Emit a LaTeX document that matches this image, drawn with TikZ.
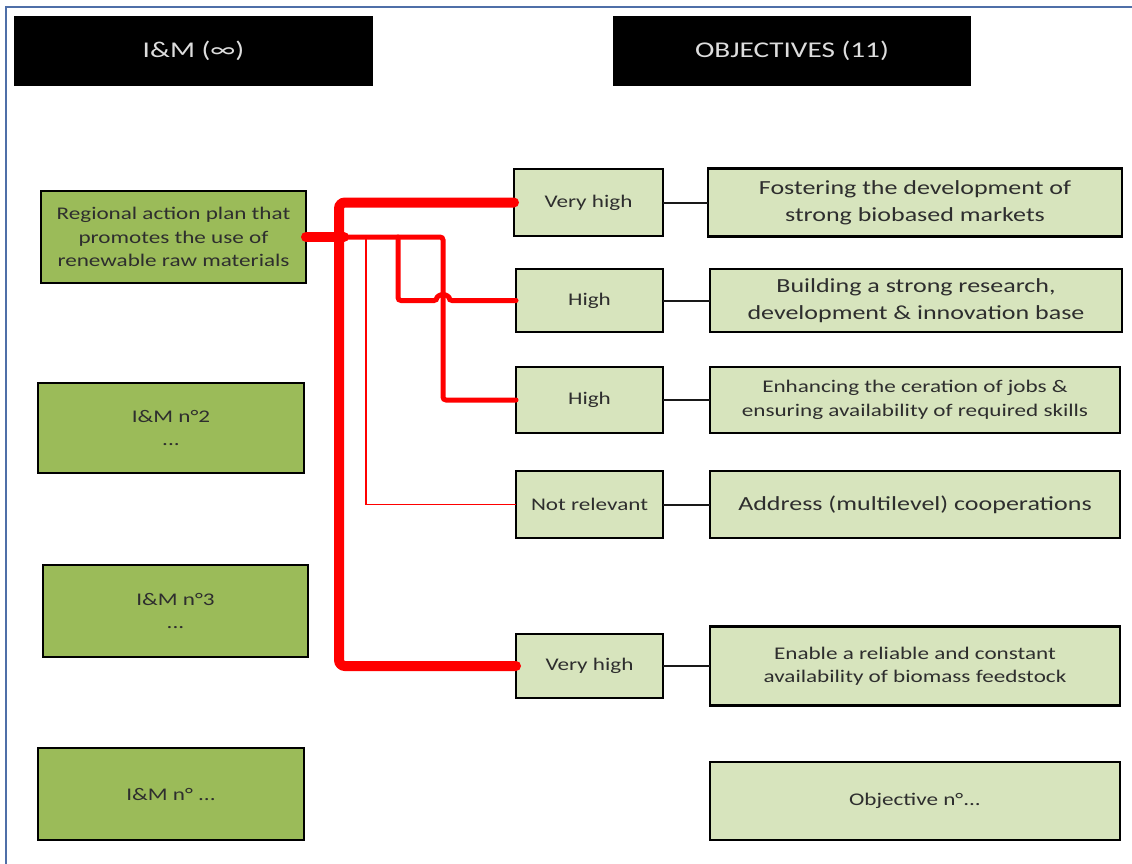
\documentclass[tikz,border=0pt]{standalone}
\usepackage{fontspec}
\setmainfont[FakeStretch=1.3]{Carlito}
\definecolor{darkgreen}{HTML}{9BBB59}
\definecolor{lightgreen}{HTML}{D7E4BD}
\definecolor{txt}{HTML}{2E2E2E}
\definecolor{hdrtxt}{HTML}{DDDDDD}
\definecolor{framec}{HTML}{4F6FA8}
\definecolor{redc}{HTML}{FF0000}
\tikzset{
  hdr/.style={fill=black, draw=none, inner sep=0pt, outer sep=0pt, text=hdrtxt,
    font=\fontsize{22.5}{26}\selectfont},
  imbox/.style={fill=darkgreen, draw=black, line width=2.2pt, inner sep=0pt, outer sep=0pt,
    text=txt, align=center, font=\fontsize{17.8}{23.5}\selectfont},
  ratebox/.style={fill=lightgreen, draw=black, line width=2.2pt, inner sep=0pt, outer sep=0pt,
    text=txt, align=center, font=\fontsize{17.8}{23.5}\selectfont},
  objbox/.style={fill=lightgreen, draw=black, line width=2.2pt, inner sep=0pt, outer sep=0pt,
    text=txt, align=center, font=\fontsize{17.8}{23.5}\selectfont},
  objbig/.style={objbox, font=\fontsize{20}{27}\selectfont},
  conn/.style={draw=black!90, line width=2pt},
  thickred/.style={draw=redc, line width=10pt, line cap=round, rounded corners=6pt},
  medred/.style={draw=redc, line width=5pt, line cap=round, rounded corners=3pt},
  thinred/.style={draw=redc, line width=1.6pt},
}
\begin{document}
\begin{tikzpicture}[x=1pt,y=-1pt]
\useasboundingbox (0,0) rectangle (1132,864);
% frame
\draw[framec, line width=2pt] (6,864) -- (6,7.5) -- (1132,7.5);
% headers
\node[hdr, minimum width=359pt, minimum height=70pt] (hIM) at (193.5,51) {I\&M (∞)};
\node[hdr, minimum width=358pt, minimum height=70pt] (hOB) at (792,51) {OBJECTIVES (11)};
% I&M boxes
\node[imbox, minimum width=265pt, minimum height=92pt] (ram) at (173.5,237)
  {Regional action plan that\\promotes the use of\\renewable raw materials};
\node[imbox, minimum width=266pt, minimum height=90pt] (im2) at (171,428) {I\&M n°2\\...};
\node[imbox, minimum width=265pt, minimum height=92pt] (im3) at (175.5,611) {I\&M n°3\\...};
\node[imbox, minimum width=266pt, minimum height=92pt] (imN) at (171,794) {I\&M n° ...};
% rating boxes
\node[ratebox, minimum width=149pt, minimum height=67pt] (r1) at (588.5,202.5) {Very high};
\node[ratebox, minimum width=147pt, minimum height=63pt] (r2) at (589.5,300.5) {High};
\node[ratebox, minimum width=147pt, minimum height=66pt] (r3) at (589.5,400) {High};
\node[ratebox, minimum width=147pt, minimum height=67pt] (r4) at (589.5,504.5) {Not relevant};
\node[ratebox, minimum width=147pt, minimum height=64pt] (r5) at (589.5,666) {Very high};
% objective boxes
\node[objbig, minimum width=414pt, minimum height=68pt] (o1) at (915,202.5)
  {Fostering the development of\\strong biobased markets};
\node[objbig, minimum width=412pt, minimum height=63pt] (o2) at (916,300.5)
  {Building a strong research,\\development \& innovation base};
\node[objbox, minimum width=410pt, minimum height=66pt] (o3) at (915,400)
  {Enhancing the ceration of jobs \&\\ensuring availability of required skills};
\node[objbig, minimum width=410pt, minimum height=67pt] (o4) at (915,504.5)
  {Address (multilevel) cooperations};
\node[objbox, minimum width=410pt, minimum height=79pt] (o5) at (915,666)
  {Enable a reliable and constant\\availability of biomass feedstock};
\node[objbox, minimum width=410pt, minimum height=78pt] (o6) at (915,801)
  {Objective n°...};
% black connectors
\draw[conn] (r1.east) -- (o1.west);
\draw[conn] (r2.east) -- (o2.west);
\draw[conn] (r3.east) -- (o3.west);
\draw[conn] (r4.east) -- (o4.west);
\draw[conn] (r5.east) -- (o5.west);
% red junction coordinates
\coordinate (trunkTop) at (339,202.5);
\coordinate (trunkBot) at (339,666);
\coordinate (jThin) at (366,237);
\coordinate (jMedA) at (398,237);
\coordinate (jMedB) at (443,237);
\coordinate (hopL) at (437,300.5);
% red connectors
\draw[thinred] (jThin) |- (r4.west);
\draw[medred] (ram.east) -- (jMedB) |- (r3.west);
\draw[medred] (jMedA) |- (hopL) arc[start angle=180, end angle=360, radius=6] -- (r2.west);
\draw[thickred] (r1.west) -- (trunkTop) -- (trunkBot) -- (r5.west);
\draw[thickred] (ram.east) -- ([xshift=5pt]ram.east -| trunkTop);
\end{tikzpicture}
\end{document}
